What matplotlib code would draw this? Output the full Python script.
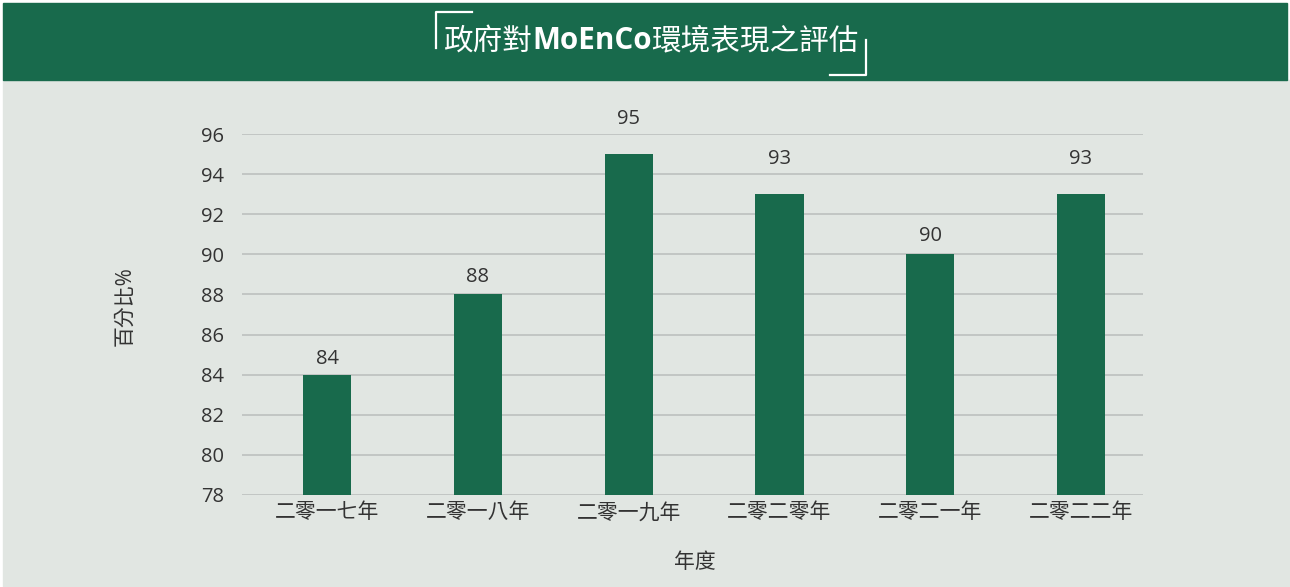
import matplotlib.pyplot as plt
from matplotlib.patches import Rectangle
from matplotlib.lines import Line2D

# 數據
years = ['二零一七年', '二零一八年', '二零一九年', '二零二零年', '二零二一年', '二零二二年']
scores = [84, 88, 95, 93, 90, 93]
yticks = [78, 80, 82, 84, 86, 88, 90, 92, 94, 96]
title_parts = [('政府對', 'normal'), ('MoEnCo', 'bold'), ('環境表現之評估', 'normal')]
# 數值標籤離柱頂的距離（點），照原圖
label_pad = [11.5, 12.8, 25, 25, 13.5, 25]

green = '#186a4c'
bg = '#e1e6e2'
txt = '#333333'
fonts = ['Open Sans', 'Noto Sans CJK TC', 'DejaVu Sans']
plt.rcParams['font.family'] = fonts

W, H = 1290, 587
fig = plt.figure(figsize=(W / 100, H / 100), dpi=100, facecolor='white')


def px(x, y):
    return x / W, 1 - y / H


# 背景與標題欄
fig.patches.append(Rectangle((3 / W, 0), 1 - 3 / W, 1 - 80 / H,
                             transform=fig.transFigure, color=bg, zorder=-5))
fig.patches.append(Rectangle((3 / W, 1 - 80 / H), 1 - 6 / W, 77 / H,
                             transform=fig.transFigure, color=green, zorder=-5))

# 標題（中文一般字重，英文粗體）
renderer = fig.canvas.get_renderer()
texts = []
for s, w in title_parts:
    fam = ['Noto Sans CJK TC'] if w == 'normal' else ['Open Sans']
    t = fig.text(0, 0, s, color='white', fontsize=21.3, fontweight=w,
                 family=fam, ha='left', va='center')
    texts.append(t)
widths = [t.get_window_extent(renderer).width for t in texts]
x0 = 651 - sum(widths) / 2
for t, wd in zip(texts, widths):
    t.set_position((x0 / W, 1 - 41 / H))
    x0 += wd

# 括號裝飾
for xs, ys in [([472, 436, 436], [12, 12, 48]), ([830, 866, 866], [75, 75, 40])]:
    pts = [px(a, b) for a, b in zip(xs, ys)]
    fig.lines.append(Line2D([p[0] for p in pts], [p[1] for p in pts],
                            transform=fig.transFigure, color='white', lw=1.6))

ax = fig.add_axes([242 / W, 1 - 495 / H, 901 / W, 361 / H])
ax.set_facecolor('none')
x = range(len(years))
bars = ax.bar(x, scores, width=0.32, color=green, zorder=3)
ax.set_xlim(-0.564, len(years) - 1 + 0.411)
ax.set_ylim(78, 96)
ax.set_yticks(yticks)
ax.set_xticks(list(x))
ax.set_xticklabels(years, fontsize=15, fontweight='light')
ax.grid(axis='y', color='#bfc3c1', lw=1.3, zorder=0)
for s in ax.spines.values():
    s.set_visible(False)
ax.tick_params(length=0, labelsize=14.5, colors=txt)
ax.tick_params(axis='y', pad=13)
ax.tick_params(axis='x', pad=6, labelsize=15)
for b, v, p in zip(bars, scores, label_pad):
    ax.annotate(str(v), (b.get_x() + b.get_width() / 2, v), xytext=(0, p),
                textcoords='offset points', ha='center', va='center',
                fontsize=14.5, color=txt)
fig.text(*px(695, 563), '年度', fontsize=15, color=txt, ha='center', va='center')
fig.text(*px(125, 306), '百分比%', fontsize=15, color=txt, ha='center', va='center',
         rotation=90)

fig.savefig('out.png', dpi=100, facecolor='white')
